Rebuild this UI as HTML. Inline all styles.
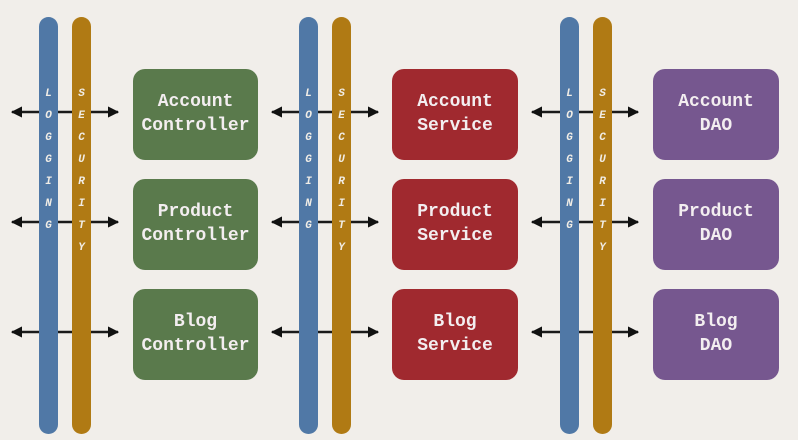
<!DOCTYPE html>
<html><head><meta charset="utf-8"><style>
html,body{margin:0;padding:0;background:#f1eeea;}
svg{display:block}
.bt{font-family:"Liberation Mono",monospace;font-weight:bold;font-size:18px;fill:#f3eef0;text-anchor:middle}
.lt{font-family:"Liberation Mono",monospace;font-weight:bold;font-style:italic;font-size:11px;fill:#f1ede6;text-anchor:middle}
</style></head><body>
<svg width="798" height="440" viewBox="0 0 798 440" xmlns="http://www.w3.org/2000/svg">
<defs>
<marker id="ah" viewBox="0 0 10 10" refX="9" refY="5" markerWidth="4.5" markerHeight="4.5" orient="auto-start-reverse"><path d="M0,0 L10,5 L0,10 z" fill="#111"/></marker>
</defs>
<rect width="798" height="440" fill="#f1eeea"/>
<g stroke="#1a1a1a" stroke-width="2.5" marker-start="url(#ah)" marker-end="url(#ah)">
<line x1="12" y1="112" x2="118" y2="112"/><line x1="12" y1="222" x2="118" y2="222"/><line x1="12" y1="332" x2="118" y2="332"/>
<line x1="272" y1="112" x2="378" y2="112"/><line x1="272" y1="222" x2="378" y2="222"/><line x1="272" y1="332" x2="378" y2="332"/>
<line x1="532" y1="112" x2="638" y2="112"/><line x1="532" y1="222" x2="638" y2="222"/><line x1="532" y1="332" x2="638" y2="332"/>
</g>
<g>
<rect x="39" y="17" width="19" height="417" rx="9.5" fill="#5078a6"/>
<rect x="72" y="17" width="19" height="417" rx="9.5" fill="#b07a14"/>
<rect x="299" y="17" width="19" height="417" rx="9.5" fill="#5078a6"/>
<rect x="332" y="17" width="19" height="417" rx="9.5" fill="#b07a14"/>
<rect x="560" y="17" width="19" height="417" rx="9.5" fill="#5078a6"/>
<rect x="593" y="17" width="19" height="417" rx="9.5" fill="#b07a14"/>
</g>
<g class="lt">
<g transform="translate(48.5,0)"><text y="96">L</text><text y="118">O</text><text y="140">G</text><text y="162">G</text><text y="184">I</text><text y="206">N</text><text y="228">G</text></g>
<g transform="translate(81.5,0)"><text y="96">S</text><text y="118">E</text><text y="140">C</text><text y="162">U</text><text y="184">R</text><text y="206">I</text><text y="228">T</text><text y="250">Y</text></g>
<g transform="translate(308.5,0)"><text y="96">L</text><text y="118">O</text><text y="140">G</text><text y="162">G</text><text y="184">I</text><text y="206">N</text><text y="228">G</text></g>
<g transform="translate(341.5,0)"><text y="96">S</text><text y="118">E</text><text y="140">C</text><text y="162">U</text><text y="184">R</text><text y="206">I</text><text y="228">T</text><text y="250">Y</text></g>
<g transform="translate(569.5,0)"><text y="96">L</text><text y="118">O</text><text y="140">G</text><text y="162">G</text><text y="184">I</text><text y="206">N</text><text y="228">G</text></g>
<g transform="translate(602.5,0)"><text y="96">S</text><text y="118">E</text><text y="140">C</text><text y="162">U</text><text y="184">R</text><text y="206">I</text><text y="228">T</text><text y="250">Y</text></g>
</g>
<g>
<rect x="133" y="69" width="125" height="91" rx="12" fill="#5a7a4c"/>
<rect x="133" y="179" width="125" height="91" rx="12" fill="#5a7a4c"/>
<rect x="133" y="289" width="125" height="91" rx="12" fill="#5a7a4c"/>
<rect x="392" y="69" width="126" height="91" rx="12" fill="#a0292f"/>
<rect x="392" y="179" width="126" height="91" rx="12" fill="#a0292f"/>
<rect x="392" y="289" width="126" height="91" rx="12" fill="#a0292f"/>
<rect x="653" y="69" width="126" height="91" rx="12" fill="#76578f"/>
<rect x="653" y="179" width="126" height="91" rx="12" fill="#76578f"/>
<rect x="653" y="289" width="126" height="91" rx="12" fill="#76578f"/>
</g>
<g class="bt">
<text x="195.5" y="106">Account</text><text x="195.5" y="130">Controller</text>
<text x="195.5" y="216">Product</text><text x="195.5" y="240">Controller</text>
<text x="195.5" y="326">Blog</text><text x="195.5" y="350">Controller</text>
<text x="455" y="106">Account</text><text x="455" y="130">Service</text>
<text x="455" y="216">Product</text><text x="455" y="240">Service</text>
<text x="455" y="326">Blog</text><text x="455" y="350">Service</text>
<text x="716" y="106">Account</text><text x="716" y="130">DAO</text>
<text x="716" y="216">Product</text><text x="716" y="240">DAO</text>
<text x="716" y="326">Blog</text><text x="716" y="350">DAO</text>
</g>
</svg>
</body></html>
